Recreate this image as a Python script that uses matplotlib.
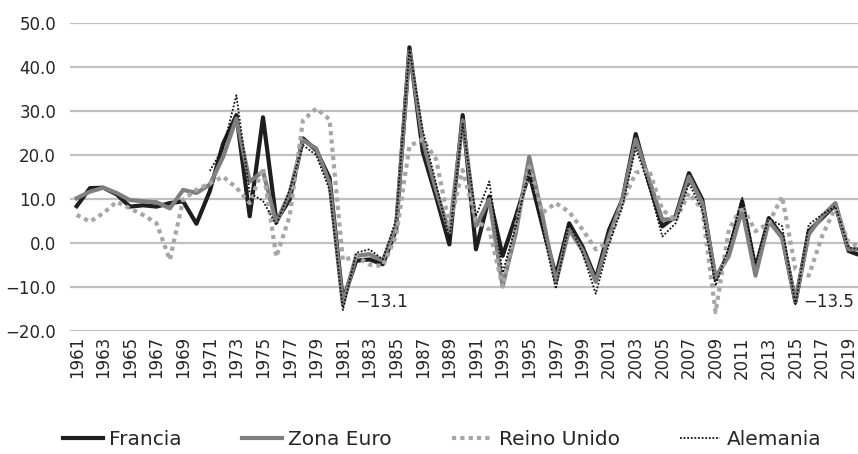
import numpy as np
import matplotlib
matplotlib.use("Agg")
import matplotlib.pyplot as plt
from matplotlib.ticker import FuncFormatter

# years shown on the category axis
years = list(range(1961, 2021))

francia = [8.3, 12.4, 12.5, 11.0, 8.2, 8.5, 8.2, 9.0, 9.4, 4.3,
           11.7, 22.5, 29.0, 6.0, 28.5, 5.0, 9.8, 23.7, 21.0, 14.7,
           -13.1, -4.1, -3.8, -4.9, 3.0, 44.4, 20.7, 10.5, -0.4, 29.0,
           -1.5, 10.5, -3.0, 6.0, 15.8, 3.8, -7.5, 4.4, -0.9, -8.2,
           2.9, 9.8, 24.7, 13.6, 3.7, 6.0, 15.8, 9.8, -8.3, -2.3,
           9.4, -6.0, 5.6, 1.5, -13.5, 2.6, 5.6, 8.6, -1.9, -3.0]

zona_euro = [10.1, 11.6, 12.5, 11.3, 9.7, 9.4, 9.2, 7.8, 12.0, 11.3,
             13.2, 19.5, 28.2, 13.9, 16.2, 4.5, 11.3, 23.3, 21.4, 13.5,
             -14.0, -3.0, -2.6, -4.1, 3.8, 43.6, 23.3, 12.0, 2.3, 27.8,
             3.8, 9.8, -9.8, 2.3, 19.5, 6.0, -9.0, 3.0, -1.7, -8.9,
             1.4, 9.8, 23.5, 14.4, 5.2, 5.5, 15.0, 9.0, -7.9, -3.0,
             7.5, -7.5, 4.9, 1.1, -13.3, 1.9, 6.0, 9.0, -1.5, -1.5]

reino_unido = [6.3, 4.8, 6.7, 9.3, 7.8, 6.3, 4.4, -3.9, 9.8, 12.0,
               13.5, 15.0, 12.5, 9.0, 17.0, -3.2, 6.0, 27.8, 30.5, 28.0,
               -4.0, -3.0, -5.0, -5.3, 1.5, 22.0, 23.5, 19.0, 4.0, 16.5,
               5.0, 3.0, -10.0, 3.8, 17.3, 6.8, 9.0, 7.0, 3.0, -1.5,
               0.2, 9.0, 15.9, 16.6, 7.5, 5.0, 11.3, 7.5, -15.8, 3.0,
               8.3, 2.6, 4.5, 10.5, -6.0, -7.5, 1.5, 7.9, 0.0, -1.0]

# Alemania starts in 1971
alemania = [np.nan] * 10 + [
    16.3, 21.5, 33.5, 11.3, 9.5, 4.0, 12.0, 22.2, 19.9, 12.0,
    -15.3, -2.3, -1.5, -3.8, 5.3, 44.0, 25.6, 13.5, 0.8, 27.0,
    6.0, 13.9, -6.8, 3.8, 16.5, 3.0, -10.5, 4.5, -2.4, -11.6,
    -0.2, 8.2, 21.6, 12.8, 1.4, 4.4, 13.5, 7.5, -9.8, -0.8,
    10.2, -4.5, 5.5, 3.8, -14.0, 4.1, 6.4, 8.3, -1.1, -1.5]

text_col = "#262626"
plt.rcParams['font.family'] = ['DejaVu Sans']

fig = plt.figure(figsize=(8.58, 4.54), dpi=100)
ax = fig.add_axes([0.0816, 0.2716, 0.9308, 0.6784])

ax.plot(years, francia, color="#1e1e1e", lw=3.0, label="Francia", zorder=3)
ax.plot(years, zona_euro, color="#7f7f7f", lw=3.0, label="Zona Euro", zorder=4)
ax.plot(years, reino_unido, color="#a6a6a6", lw=3.0, ls=(0, (1, 1)),
        label="Reino Unido", zorder=5)
ax.plot(years, alemania, color="#111111", lw=1.3, ls=(0, (1, 1)),
        label="Alemania", zorder=6)

ax.set_xlim(1960.5, 2020.5)
ax.set_ylim(-20, 50)
ax.set_yticks(np.arange(-20, 51, 10))
ax.yaxis.set_major_formatter(FuncFormatter(lambda v, p: f"{v:.1f}".replace("-", "\u2212")))
ax.set_xticks(years[::2])
ax.set_xticklabels([str(y) for y in years[::2]], rotation=90)
ax.tick_params(axis="both", length=0, labelsize=12, colors=text_col)
ax.tick_params(axis="y", pad=10)
ax.tick_params(axis="x", pad=4)

ax.grid(axis="y", color="#c0c0c0", lw=1.6)
ax.set_axisbelow(True)
for s in ax.spines.values():
    s.set_visible(False)

# min value labels
ax.annotate("\u221213.1", xy=(1981, -13.1), xytext=(12, -2), textcoords="offset pixels",
            fontsize=12.5, color=text_col, va="center", ha="left")
ax.annotate("\u221213.5", xy=(2015, -13.5), xytext=(8, 0), textcoords="offset pixels",
            fontsize=12, color=text_col, va="center", ha="left",
            annotation_clip=False)

fig.legend(loc="lower center", bbox_to_anchor=(0.515, -0.03), ncol=4, frameon=False,
           fontsize=14.5, handlelength=2.0, handletextpad=0.3, columnspacing=3.0,
           labelcolor=text_col)

fig.savefig("out.png", dpi=100)
